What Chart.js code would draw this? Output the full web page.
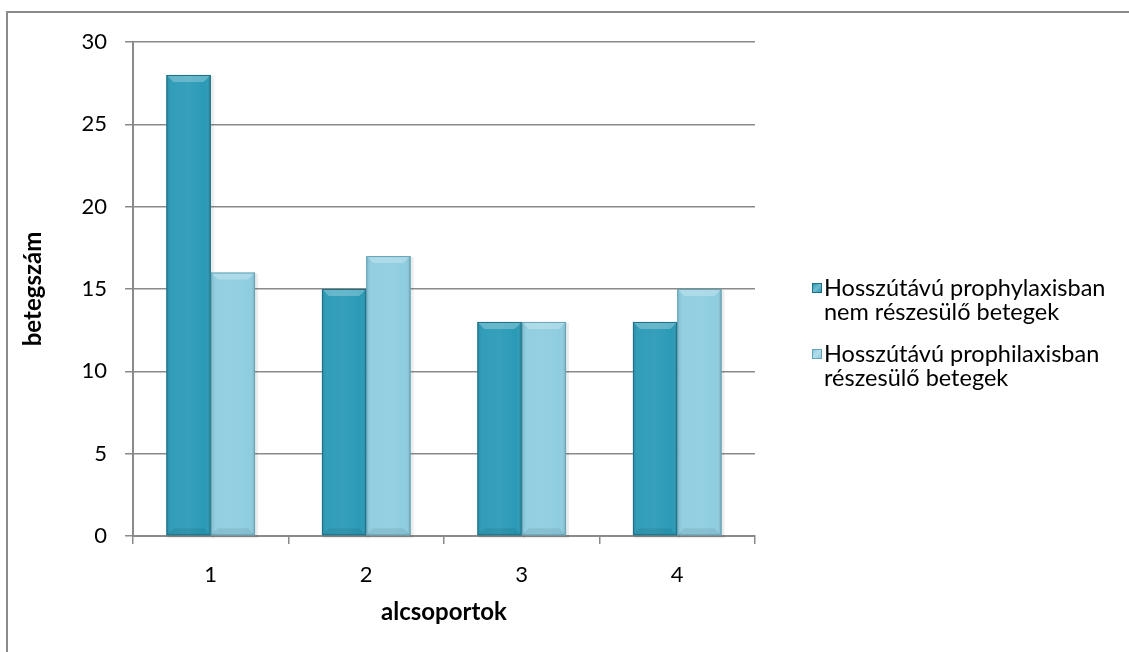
<!DOCTYPE html>
<html>
<head>
<meta charset="utf-8">
<script src="https://cdn.jsdelivr.net/npm/chart.js@4"></script>
<style>
  html, body { margin: 0; padding: 0; background: #fff; overflow: hidden; }
  #wrap { position: relative; width: 1129px; height: 652px; }
  #frame { position: absolute; left: 6px; top: 11px; width: 1200px; height: 700px;
           border: 2px solid #8a8a8a; box-sizing: border-box; }
  canvas { position: absolute; left: 0; top: 0; }
  #legend { position: absolute; left: 812px; top: 275px; font-family: Lato, "Open Sans", sans-serif;
            font-size: 23.5px; color: #000; line-height: 24px; }
  .item { position: relative; padding-left: 12px; margin-bottom: 18px; white-space: nowrap; }
  .sw { position: absolute; left: 0; top: 8px; width: 10px; height: 10px; box-sizing: border-box; }
</style>
</head>
<body>
<div id="wrap">
  <div id="frame"></div>
  <canvas id="c" width="1129" height="652"></canvas>
  <div id="legend"></div>
</div>
<script>
const categories = ['1', '2', '3', '4'];
const seriesNames = [
  ['Hosszútávú prophylaxisban', 'nem részesülő betegek'],
  ['Hosszútávú prophilaxisban', 'részesülő betegek']
];
const notReceiving = [28, 15, 13, 13];
const receiving = [16, 17, 13, 15];
const yTicks = [0, 5, 10, 15, 20, 25, 30];

const fills = ['#2a9ab7', '#8ecde0'];
const edges = ['#1d6f84', '#65a5b8'];
const FONT = 'Lato, "Open Sans", sans-serif';

// Soft shadow and bevelled top for every bar
const bevel = {
  id: 'bevel',
  beforeDatasetsDraw(chart) {
    const ctx = chart.ctx;
    chart.data.datasets.forEach((ds, i) => {
      chart.getDatasetMeta(i).data.forEach(bar => {
        const w = bar.width, l = bar.x - w / 2;
        ctx.save();
        ctx.fillStyle = 'rgba(0,0,0,0.07)';
        ctx.fillRect(l + 1, bar.y + 1, w + 2, bar.base - bar.y + 2);
        ctx.restore();
      });
    });
  },
  afterDatasetsDraw(chart) {
    const ctx = chart.ctx;
    chart.data.datasets.forEach((ds, i) => {
      chart.getDatasetMeta(i).data.forEach(bar => {
        const w = bar.width, l = bar.x - w / 2, r = l + w, t = bar.y, b = bar.base;
        ctx.save();
        // side shading
        let g = ctx.createLinearGradient(l, 0, r, 0);
        g.addColorStop(0, 'rgba(0,0,0,0.12)');
        g.addColorStop(0.12, 'rgba(255,255,255,0.04)');
        g.addColorStop(0.5, 'rgba(255,255,255,0.06)');
        g.addColorStop(0.88, 'rgba(255,255,255,0.0)');
        g.addColorStop(1, 'rgba(0,0,0,0.18)');
        ctx.fillStyle = g;
        ctx.fillRect(l, t, w, b - t);
        // top bevel
        const d = 7;
        ctx.beginPath();
        ctx.moveTo(l, t); ctx.lineTo(r, t); ctx.lineTo(r - d, t + d); ctx.lineTo(l + d, t + d); ctx.closePath();
        ctx.fillStyle = 'rgba(255,255,255,0.25)';
        ctx.fill();
        // bottom bevel
        ctx.beginPath();
        ctx.moveTo(l, b); ctx.lineTo(r, b); ctx.lineTo(r - d, b - d); ctx.lineTo(l + d, b - d); ctx.closePath();
        ctx.fillStyle = 'rgba(0,0,0,0.07)';
        ctx.fill();
        ctx.strokeStyle = edges[i];
        ctx.lineWidth = 1;
        ctx.strokeRect(l + 0.5, t + 0.5, w - 1, b - t - 1);
        ctx.restore();
      });
    });
  }
};

new Chart(document.getElementById('c'), {
  type: 'bar',
  data: {
    labels: categories,
    datasets: [
      { label: seriesNames[0].join(' '), data: notReceiving, backgroundColor: fills[0] },
      { label: seriesNames[1].join(' '), data: receiving, backgroundColor: fills[1] }
    ]
  },
  options: {
    responsive: false,
    animation: false,
    devicePixelRatio: 1,
    layout: { padding: { left: 19, top: 42, right: 374, bottom: 25 } },
    plugins: { legend: { display: false }, tooltip: { enabled: false } },
    datasets: { bar: { categoryPercentage: 0.57, barPercentage: 1 } },
    scales: {
      x: {
        afterFit(s) { s.height = 91; },
        grid: { offset: true, drawOnChartArea: false, tickLength: 8, color: '#8a8a8a', lineWidth: 1.5 },
        border: { color: '#8a8a8a', width: 2 },
        ticks: { color: '#000', font: { family: FONT, size: 22 }, padding: 18 },
        title: { display: true, text: 'alcsoportok', color: '#000',
                 font: { family: FONT, size: 24, weight: 'bold' }, padding: { top: 0, bottom: 0 } }
      },
      y: {
        min: 0, max: 30,
        afterFit(s) { s.width = 133 - 19; },
        afterBuildTicks(s) { s.ticks = yTicks.map(v => ({ value: v })); },
        grid: { tickLength: 8, color: '#8a8a8a', lineWidth: 1.5 },
        border: { color: '#8a8a8a', width: 2 },
        ticks: { color: '#000', font: { family: FONT, size: 22 }, padding: 18 },
        title: { display: true, text: 'betegszám', color: '#000',
                 font: { family: FONT, size: 24, weight: 'bold' }, padding: { top: 0, bottom: 0 } }
      }
    }
  },
  plugins: [bevel]
});

// Legend with wrapped series names
const legend = document.getElementById('legend');
seriesNames.forEach((lines, i) => {
  const item = document.createElement('div');
  item.className = 'item';
  const sw = document.createElement('span');
  sw.className = 'sw';
  sw.style.background = `linear-gradient(135deg, ${fills[i]}, #ffffff55 50%, ${fills[i]})`;
  sw.style.backgroundColor = fills[i];
  sw.style.border = `1px solid ${edges[i]}`;
  item.appendChild(sw);
  lines.forEach((t, k) => {
    if (k) item.appendChild(document.createElement('br'));
    item.appendChild(document.createTextNode(t));
  });
  legend.appendChild(item);
});
</script>
</body>
</html>
